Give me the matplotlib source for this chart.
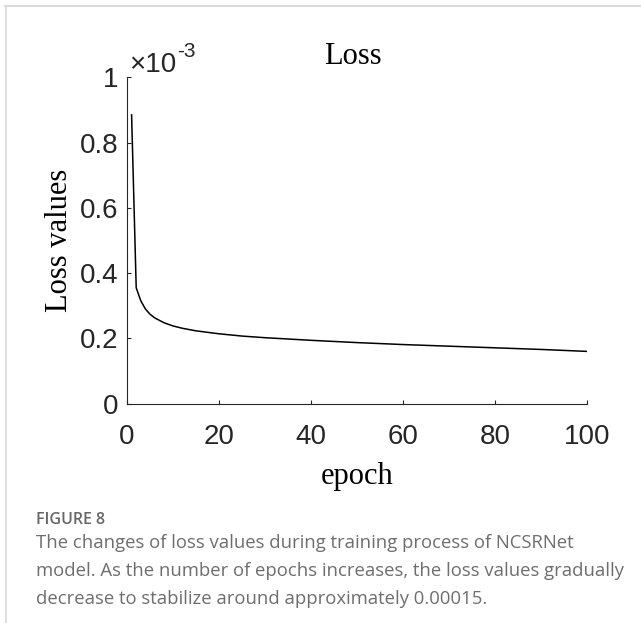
import matplotlib
matplotlib.use("Agg")
import matplotlib.pyplot as plt
from matplotlib.lines import Line2D

# values (loss in units of 1e-3)
epochs = [1, 2, 3, 4, 5, 6, 8, 10, 12, 15, 20, 25, 30, 40, 50, 60, 70, 80, 90, 100]
loss = [0.885, 0.355, 0.315, 0.290, 0.274, 0.263, 0.248, 0.238, 0.231, 0.223,
        0.214, 0.207, 0.202, 0.194, 0.187, 0.181, 0.176, 0.171, 0.166, 0.160]

x_ticks = [0, 20, 40, 60, 80, 100]
y_ticks = [0, 0.2, 0.4, 0.6, 0.8, 1]
y_tick_labels = ["0", "0.2", "0.4", "0.6", "0.8", "1"]

caption_head = "FIGURE 8"
caption_lines = [
    "The changes of loss values during training process of NCSRNet",
    "model. As the number of epochs increases, the loss values gradually",
    "decrease to stabilize around approximately 0.00015.",
]

W, H = 641, 623
fig = plt.figure(figsize=(W / 100, H / 100), dpi=100)

# light frame at top and left
fig.add_artist(Line2D([5 / W, 1], [1 - 6 / H, 1 - 6 / H], color="#d9d9d9", lw=1.5))
fig.add_artist(Line2D([6 / W, 6 / W], [0, 1 - 6 / H], color="#d9d9d9", lw=1.2))

ax = fig.add_axes([127 / W, 1 - 403.6 / H, 460.3 / W, (403.6 - 77.4) / H])
ax.plot(epochs, loss, color="black", lw=1.1)
ax.set_xlim(0, 100)
ax.set_ylim(0, 1)
ax.set_xticks(x_ticks)
ax.set_yticks(y_ticks)
ax.set_yticklabels(y_tick_labels)
for s in ["top", "right"]:
    ax.spines[s].set_visible(False)
for s in ["left", "bottom"]:
    ax.spines[s].set_color("#262626")
    ax.spines[s].set_linewidth(0.8)
ax.tick_params(direction="in", length=3, width=0.8, color="#262626",
               labelsize=20, labelcolor="#262626")
ax.tick_params(axis="x", pad=14.5)
ax.tick_params(axis="y", pad=6)
for lab in ax.get_xticklabels() + ax.get_yticklabels():
    lab.set_family("Liberation Sans")

ax.set_title("Loss", family="Liberation Serif", fontsize=22, pad=10, x=0.491)
ax.set_xlabel("epoch", family="Liberation Serif", fontsize=22, labelpad=9)
ax.set_ylabel("Loss values", family="Liberation Serif", fontsize=22, labelpad=4)

# exponent marker, MATLAB style
fig.text(129 / W, 1 - 72 / H, "×10", family="Liberation Sans", fontsize=20,
         color="#262626", va="baseline", ha="left")
fig.text(177 / W, 1 - 57 / H, "-3", family="Liberation Sans", fontsize=15,
         color="#262626", va="baseline", ha="left")

fig.text(36 / W, 1 - 524 / H, caption_head, family="Open Sans", fontweight="semibold",
         fontsize=11.5, color="#666666", va="baseline")
baselines = [547.5, 576, 604]
for line, b in zip(caption_lines, baselines):
    fig.text(36 / W, 1 - b / H, line, family="Open Sans",
             fontsize=13.3, color="#6e6e6e", va="baseline")

fig.savefig("out.png", dpi=100)
